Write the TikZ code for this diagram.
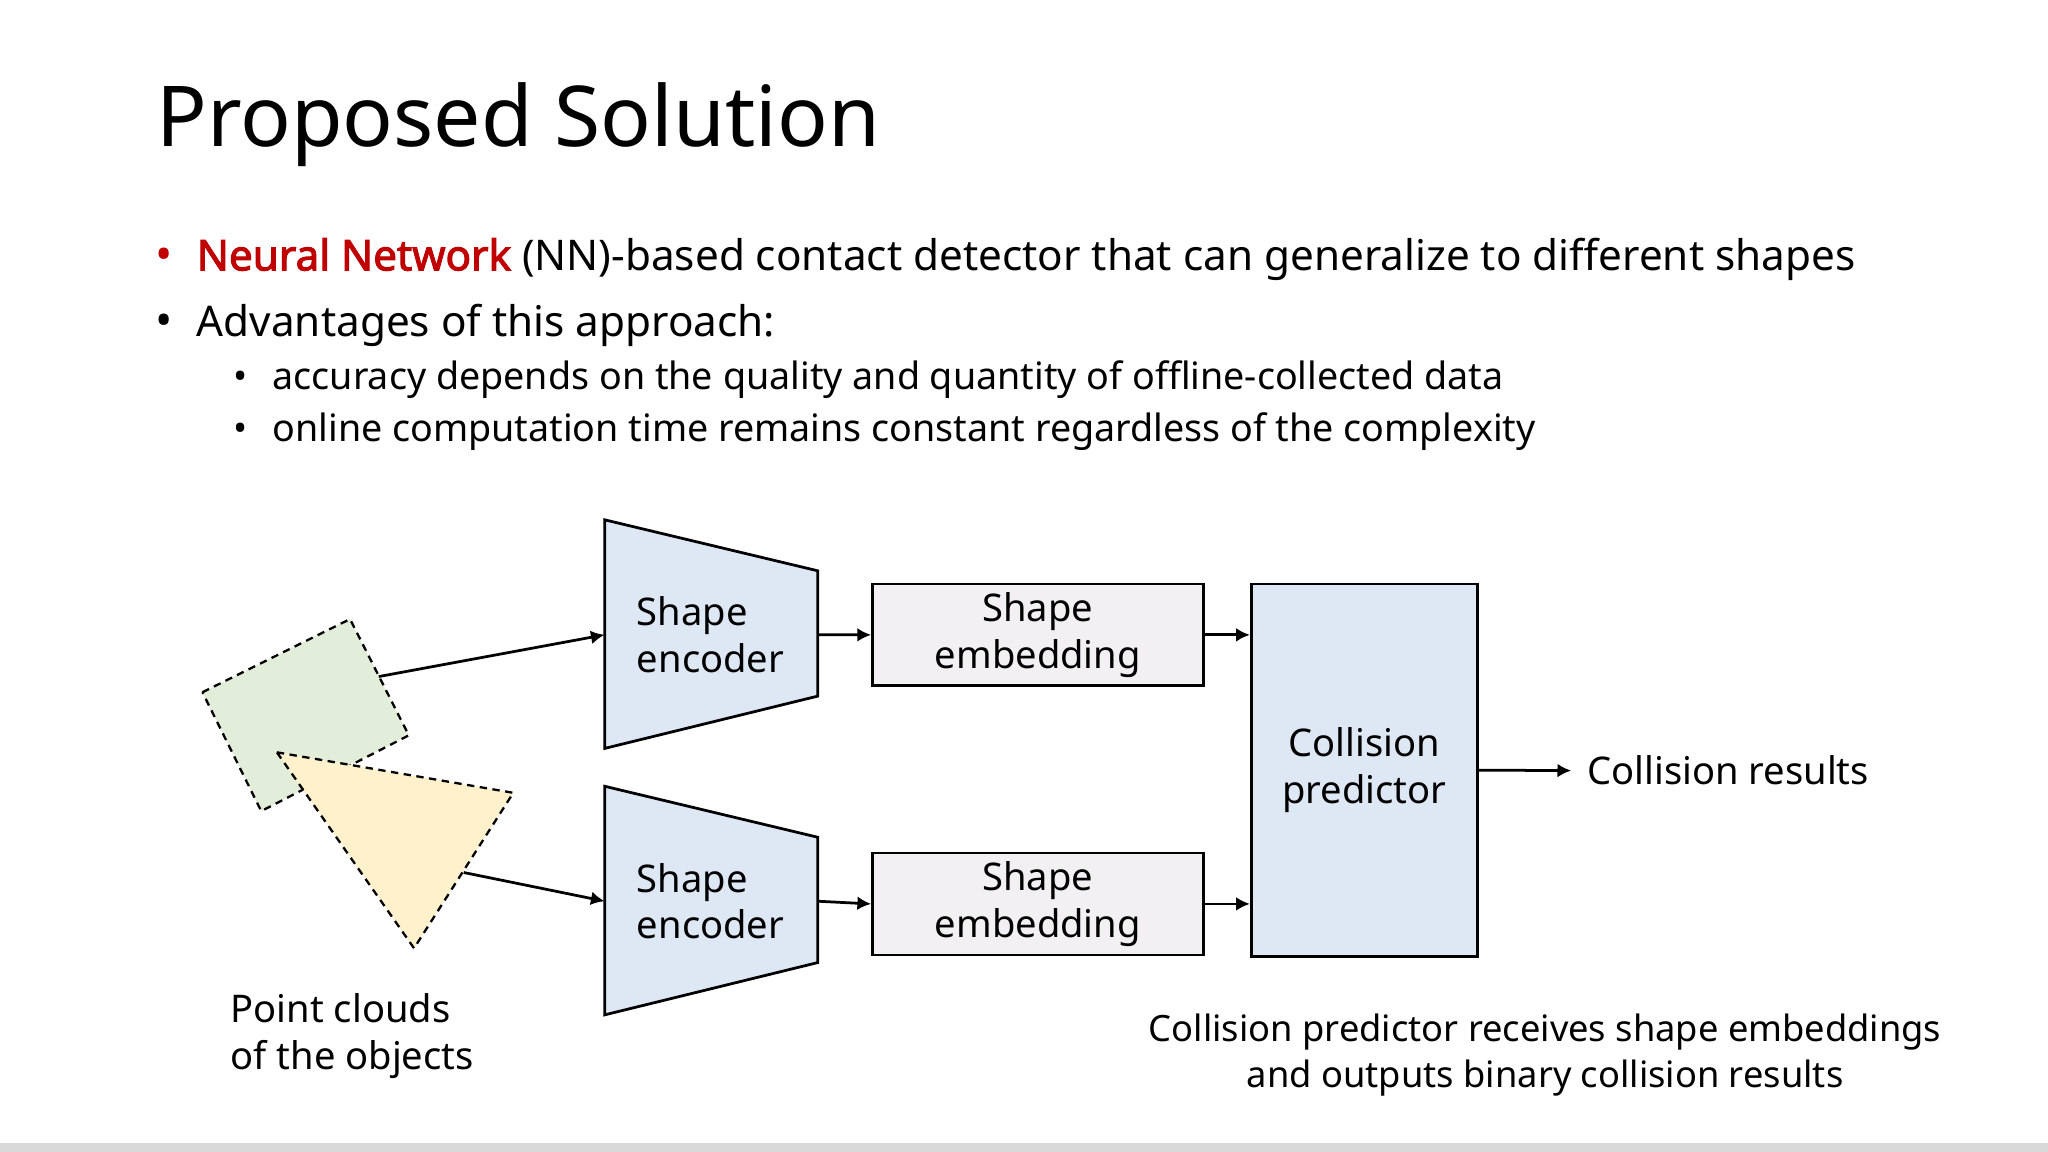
\documentclass[tikz,border=0pt]{standalone}
\usepackage{fontspec}
\setmainfont{Noto Sans}[AutoFakeBold=2.5]
\usetikzlibrary{arrows.meta,positioning}
\definecolor{encblue}{HTML}{DEE8F4}
\definecolor{embgray}{HTML}{F2F0F3}
\definecolor{pcgreen}{HTML}{E2EED9}
\definecolor{pcyellow}{HTML}{FEF1CC}
\definecolor{nnred}{HTML}{C00000}
\tikzset{
  box/.style={draw,line width=0.6pt,inner sep=0pt},
  lbl/.style={font=\fontsize{8.3}{10.2}\selectfont,align=center},
  arr/.style={-{Latex[length=3pt,width=3pt]},line width=0.6pt},
  pcloud/.style={dash pattern=on 1.6pt off 1.2pt,line width=0.5pt},
}
\begin{document}
\begin{tikzpicture}[x=0.01cm,y=-0.01cm]
\useasboundingbox (0,0) rectangle (1568,882);
\fill[gray!30] (0,875) rectangle (1568,882);
% title and bullets
\node[anchor=base west,inner sep=0pt,font=\fontsize{18.3}{22}\selectfont] (title) at (119,112) {Proposed Solution};
\node[anchor=base west,inner sep=0pt,text=nnred,font=\fontsize{10}{12}\selectfont] (b1) at (118,207) {•};
\node[anchor=base west,inner sep=0pt,font=\fontsize{9.2}{12}\selectfont] (t1) at (150,207) {\textcolor{nnred}{\bfseries Neural Network} (NN)-based contact detector that can generalize to different shapes};
\node[anchor=base west,inner sep=0pt,font=\fontsize{10}{12}\selectfont] (b2) at (118,258) {•};
\node[anchor=base west,inner sep=0pt,font=\fontsize{9.2}{12}\selectfont] (t2) at (150,258) {Advantages of this approach:};
\node[anchor=base west,inner sep=0pt,font=\fontsize{8.2}{10}\selectfont] (b3) at (178,298) {•};
\node[anchor=base west,inner sep=0pt,font=\fontsize{8.2}{10}\selectfont] (t3) at (208,298) {accuracy depends on the quality and quantity of offline-collected data};
\node[anchor=base west,inner sep=0pt,font=\fontsize{8.2}{10}\selectfont] (b4) at (178,338) {•};
\node[anchor=base west,inner sep=0pt,font=\fontsize{8.2}{10}\selectfont] (t4) at (208,338) {online computation time remains constant regardless of the complexity};
% point clouds
\draw[pcloud,fill=pcgreen] (155,530)--(268,474)--(313,563)--(200,621)--cycle;
\draw[pcloud,fill=pcyellow] (212,576)--(393,607)--(317,726)--cycle;
\coordinate (pcA) at (290,518);
\coordinate (pcB) at (355,668);
\node[lbl,align=left,anchor=north west,inner sep=0pt] (pclbl) at (176,760) {Point clouds\\of the objects};
% encoders
\foreach \ey/\en in {398/encA,602/encB}{
  \draw[box,fill=encblue] (463,\ey)--(626,\ey+39)--(626,\ey+135)--(463,\ey+175)--cycle;
  \coordinate (\en-in) at (463,\ey+88);
  \coordinate (\en-out) at (626,\ey+88);
  \node[lbl,align=left] (\en) at (544,\ey+88) {Shape\\encoder};
}
% embeddings
\node[box,fill=embgray,lbl,inner sep=0pt,anchor=north west,minimum width=2.53cm,minimum height=0.78cm] (embA) at (667,446) {Shape\\embedding};
\node[box,fill=embgray,lbl,inner sep=0pt,anchor=north west,minimum width=2.53cm,minimum height=0.78cm] (embB) at (667,652) {Shape\\embedding};
% predictor
\node[box,fill=encblue,lbl,inner sep=0pt,anchor=north west,minimum width=1.73cm,minimum height=2.85cm] (pred) at (957,446) {Collision\\predictor};
\node[lbl,anchor=west] (res) at (1203,590) {Collision results};
\node[lbl,font=\fontsize{7.9}{10}\selectfont] (cap) at (1183,808) {Collision predictor receives shape embeddings\\and outputs binary collision results};
% connectors
\draw[arr] (pcA) -- (encA-in);
\draw[arr] (pcB) -- (encB-in);
\draw[arr] (encA-out) -- (embA.west);
\draw[arr] (encB-out) -- (embB.west);
\draw[arr] (embA.east) -- (embA.east -| pred.west);
\draw[arr] (embB.east) -- (embB.east -| pred.west);
\draw[arr] (pred.east) -- (res.west);
\end{tikzpicture}
\end{document}
